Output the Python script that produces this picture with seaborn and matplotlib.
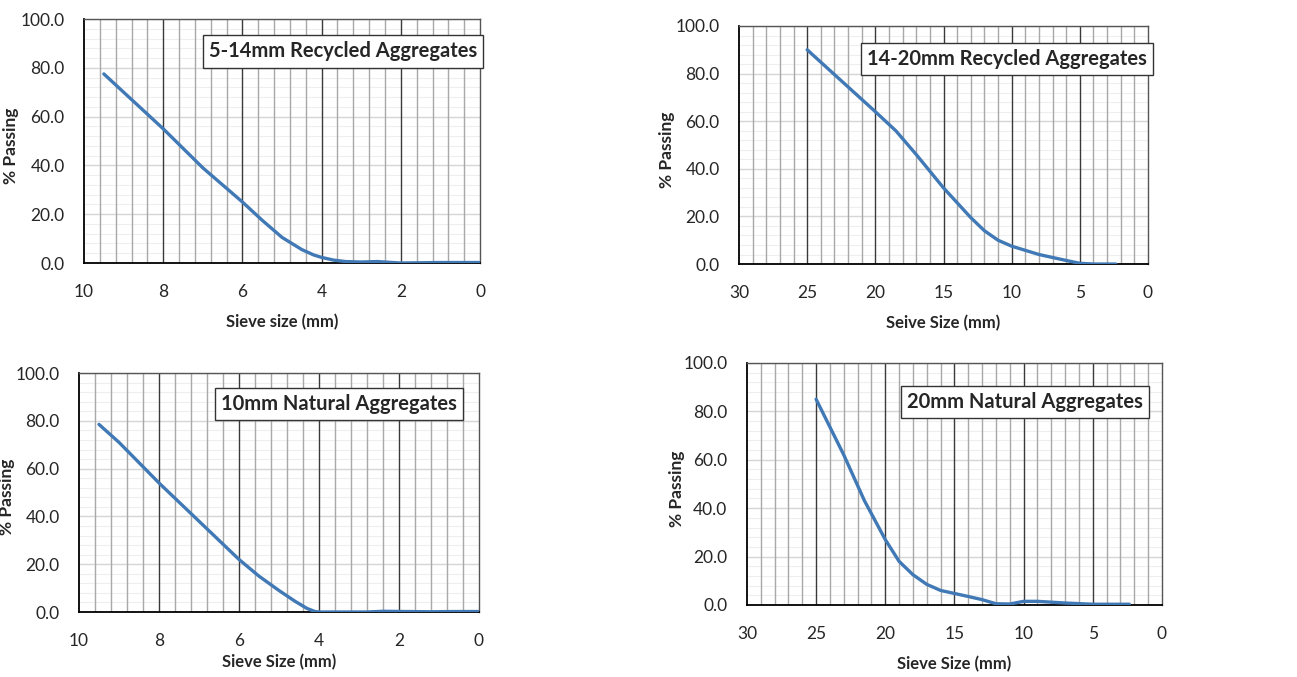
import numpy as np
import pandas as pd
import matplotlib
matplotlib.use("Agg")
import matplotlib.pyplot as plt
from matplotlib.ticker import MultipleLocator, FormatStrFormatter
import seaborn as sns

# Sieve size (mm) vs % passing
ra_5_14_size = [9.5, 9.0, 8.0, 7.0, 6.0, 5.5, 5.0, 4.5, 4.2, 4.0, 3.7, 3.4, 3.0, 2.6, 2.2, 2.0, 1.0, 0.0]
ra_5_14_pass = [77.5, 70.0, 55.0, 39.0, 25.0, 17.5, 10.5, 5.5, 3.3, 2.3, 1.2, 0.6, 0.4, 0.6, 0.2, 0.0, 0.2, 0.2]

ra_14_20_size = [25.0, 22.5, 20.0, 18.5, 17.0, 15.0, 13.0, 12.0, 11.0, 10.0, 8.0, 6.0, 5.0, 4.0, 2.36]
ra_14_20_pass = [90.0, 77.0, 64.0, 56.0, 46.0, 32.0, 19.5, 14.0, 10.0, 7.5, 4.0, 1.5, 0.3, 0.0, 0.0]

na_10_size = [9.5, 9.0, 8.0, 7.0, 6.0, 5.5, 5.0, 4.6, 4.3, 4.1, 4.0, 2.8, 2.4, 1.2, 0.6, 0.0]
na_10_pass = [78.5, 71.0, 54.0, 38.0, 22.0, 15.0, 9.0, 4.5, 1.5, 0.2, 0.0, 0.0, 0.3, 0.1, 0.2, 0.2]

na_20_size = [25.0, 23.0, 21.5, 20.0, 19.0, 18.0, 17.0, 16.0, 14.0, 13.0, 12.0, 11.0, 10.0, 9.0, 7.0, 5.0, 2.36]
na_20_pass = [85.0, 62.0, 43.0, 27.0, 18.0, 12.5, 8.5, 6.0, 3.5, 2.2, 0.5, 0.4, 1.5, 1.5, 0.8, 0.3, 0.3]

panels = [
    ("5-14mm Recycled Aggregates", "Sieve size (mm)", ra_5_14_size, ra_5_14_pass, 10, 2),
    ("14-20mm Recycled Aggregates", "Seive Size (mm)", ra_14_20_size, ra_14_20_pass, 30, 5),
    ("10mm Natural Aggregates", "Sieve Size (mm)", na_10_size, na_10_pass, 10, 2),
    ("20mm Natural Aggregates", "Sieve Size (mm)", na_20_size, na_20_pass, 30, 5),
]

# axes rectangles in figure fraction, title box centre in axes fraction,
# x label pad and y label x position (axes fraction)
rects = [
    [0.0648, 0.6115, 0.3053, 0.3604],
    [0.5698, 0.6100, 0.3153, 0.3516],
    [0.0609, 0.0960, 0.3084, 0.3530],
    [0.5759, 0.1064, 0.3200, 0.3575],
]
box_xy = [(0.654, 0.867), (0.655, 0.861), (0.650, 0.870), (0.669, 0.837)]
xlabel_pads = [10, 10, 4, 10]
ylabel_x = [-0.165, -0.156, -0.16, -0.149]

sns.set_style("white")
plt.rcParams["font.family"] = ["Lato", "DejaVu Sans"]

fig = plt.figure(figsize=(12.97, 6.77), dpi=100)

for (title, xlabel, xs, ys, xmax, xstep), rect, (bx, by), lpad, yx in zip(
        panels, rects, box_xy, xlabel_pads, ylabel_x):
    ax = fig.add_axes(rect)
    df = pd.DataFrame({"size": xs, "passing": ys})
    sns.lineplot(data=df, x="size", y="passing", ax=ax, sort=False,
                 color="#4079B5", linewidth=2.4, zorder=5)
    ax.set_xlim(xmax, 0)
    ax.set_ylim(0, 100)
    ax.xaxis.set_major_locator(MultipleLocator(xstep))
    ax.xaxis.set_minor_locator(MultipleLocator(xstep / 5))
    ax.yaxis.set_major_locator(MultipleLocator(20))
    ax.yaxis.set_minor_locator(MultipleLocator(4))
    ax.yaxis.set_major_formatter(FormatStrFormatter("%.1f"))

    # horizontal grid from the axis, vertical grid drawn above it
    ax.grid(which="major", axis="y", color="#d6d6d6", linewidth=1.0)
    ax.grid(which="minor", axis="y", color="#eeeeee", linewidth=0.8)
    ax.set_axisbelow(True)
    for xv in ax.xaxis.get_minorticklocs():
        ax.axvline(xv, color="#a8a8a8", linewidth=1.0, zorder=1)
    for xv in ax.xaxis.get_majorticklocs():
        if 0 < xv < xmax:
            ax.axvline(xv, color="#3a3a3a", linewidth=1.0, zorder=1.5)

    for side in ["top", "right"]:
        ax.spines[side].set_color("#555555")
        ax.spines[side].set_linewidth(1.0)
    for side in ["left", "bottom"]:
        ax.spines[side].set_color("#000000")
        ax.spines[side].set_linewidth(1.3)

    ax.tick_params(which="both", length=0, labelsize=12.5)
    ax.tick_params(axis="x", pad=15)
    ax.tick_params(axis="y", pad=14)
    ax.set_xlabel(xlabel, fontsize=12, fontweight="bold", labelpad=lpad)
    ax.set_ylabel("% Passing", fontsize=12.5, fontweight="bold")
    ax.yaxis.set_label_coords(yx, 0.48)

    ax.text(bx, by, title, transform=ax.transAxes, ha="center", va="center",
            fontsize=14.5, fontweight="bold", zorder=10,
            bbox=dict(boxstyle="square,pad=0.3", facecolor="white",
                      edgecolor="#333333", linewidth=1.0))

fig.savefig("out.png", dpi=100)
